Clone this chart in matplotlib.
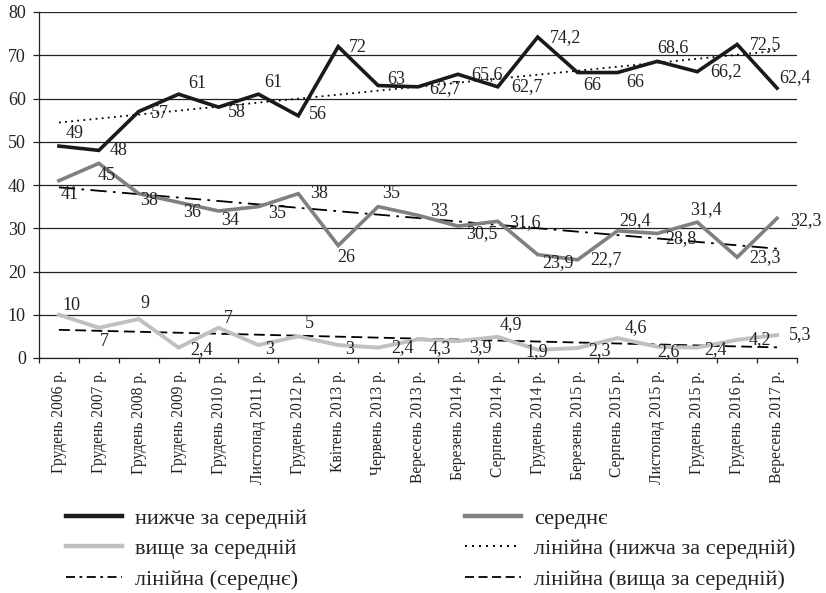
import numpy as np
import matplotlib
matplotlib.use("Agg")
import matplotlib.pyplot as plt
from matplotlib.lines import Line2D

plt.rcParams['font.family'] = ['Liberation Serif', 'DejaVu Serif']

categories = ["Грудень 2006 р.", "Грудень 2007 р.", "Грудень 2008 р.", "Грудень 2009 р.",
              "Грудень 2010 р.", "Листопад 2011 р.", "Грудень 2012 р.", "Квітень 2013 р.",
              "Червень 2013 р.", "Вересень 2013 р.", "Березень 2014 р.", "Серпень 2014 р.",
              "Грудень 2014 р.", "Березень 2015 р.", "Серпень 2015 р.", "Листопад 2015 р.",
              "Грудень 2015 р.", "Грудень 2016 р.", "Вересень 2017 р."]
below_avg = [49, 48, 57, 61, 58, 61, 56, 72, 63, 62.7, 65.6, 62.7, 74.2, 66, 66, 68.6, 66.2, 72.5, 62.4]
average = [41, 45, 38, 36, 34, 35, 38, 26, 35, 33, 30.5, 31.6, 23.9, 22.7, 29.4, 28.8, 31.4, 23.3, 32.3]
above_avg = [10, 7, 9, 2.4, 7, 3, 5, 3, 2.4, 4.3, 3.9, 4.9, 1.9, 2.3, 4.6, 2.6, 2.4, 4.2, 5.3]
y_ticks = [0, 10, 20, 30, 40, 50, 60, 70, 80]

# label offsets (pixels: dx, dy up)
off_below = [(16, 13), (20, 0), (21, -2), (19, 11), (18, -5), (15, 12), (20, 1), (20, -1), (18, 6),
             (27, -2), (29, 0), (29, 0), (28, -1), (15, -13), (18, -10), (16, 14), (29, 0), (28, 0), (18, 11)]
off_avg = [(11, -14), (8, -12), (10, -7), (13, -10), (12, -10), (19, -7), (21, 0), (8, -12), (13, 13),
           (21, 4), (24, -8), (27, -1), (20, -8), (28, 0), (18, 10), (24, -5), (9, 13), (28, 0), (29, -2)]
off_above = [(12, 9), (5, -14), (6, 16), (23, -2), (10, 9), (11, -4), (11, 13), (11, -4), (24, 0),
             (22, -9), (22, -6), (13, 12), (-1, -2), (22, -3), (18, 11), (11, -5), (18, -2), (23, 0), (23, 0)]

C_BLACK = '#1a1a1a'
C_MID = '#808080'
C_LIGHT = '#c0c0c0'
TXT = '#222222'

fig = plt.figure(figsize=(8.26, 5.93), dpi=100)
ax = fig.add_axes([39/826, 1-358/593, (797-39)/826, (358-12)/593])

x = np.arange(len(categories))

def fmt(v):
    if float(v).is_integer():
        return str(int(v))
    return ("%g" % v).replace('.', ',')

DOT = (0, (1, 2.4))
DASHDOT = (0, (9, 3.5, 1.5, 3.5))
DASH = (0, (6, 3))

# trend lines (linear regression, like Excel)
for data, ls in [(below_avg, DOT), (average, DASHDOT), (above_avg, DASH)]:
    k, b = np.polyfit(x, data, 1)
    ax.plot(x, k*x + b, color='black', lw=1.3, ls=ls, zorder=3)

ax.plot(x, below_avg, color=C_BLACK, lw=2.6, zorder=4, solid_joinstyle='miter')
ax.plot(x, average, color=C_MID, lw=2.6, zorder=4, solid_joinstyle='miter')
ax.plot(x, above_avg, color=C_LIGHT, lw=2.8, zorder=4, solid_joinstyle='miter')

for data, offs in [(below_avg, off_below), (average, off_avg), (above_avg, off_above)]:
    for xi, v, (dx, dy) in zip(x, data, offs):
        ax.annotate(fmt(v), (xi, v), xytext=(dx, dy), textcoords='offset pixels',
                    ha='center', va='center', fontsize=13, color=TXT, zorder=6,
                    annotation_clip=False)

ax.set_xlim(-0.5, len(categories) - 0.5)
ax.set_ylim(0, 80)
ax.set_yticks(y_ticks)
ax.set_yticklabels([str(t) for t in y_ticks], fontsize=13, color=TXT)
ax.yaxis.grid(True, color='#222222', lw=0.9)
ax.set_axisbelow(True)
ax.tick_params(axis='y', length=4.5, width=0.9, pad=5, color='#222222')

ax.set_xticks(x)
ax.set_xticklabels(categories, rotation=90, fontsize=11.2, color=TXT, va='top', ha='center')
ax.set_xticks(np.arange(-0.5, len(categories), 1), minor=True)
ax.tick_params(axis='x', which='major', length=0, pad=9)
ax.tick_params(axis='x', which='minor', length=3.8, width=0.9, color='#222222')

for s in ['top', 'right']:
    ax.spines[s].set_visible(False)
for s in ['left', 'bottom']:
    ax.spines[s].set_color('#222222')
    ax.spines[s].set_linewidth(0.9)

h1 = [Line2D([], [], color=C_BLACK, lw=3.2),
      Line2D([], [], color=C_LIGHT, lw=3.2),
      Line2D([], [], color='black', lw=1.3, ls=(0, (5, 2.5, 1.5, 2.5)))]
l1 = ["нижче за середній", "вище за середній", "лінійна (середнє)"]
h2 = [Line2D([], [], color=C_MID, lw=3.2),
      Line2D([], [], color='black', lw=1.4, ls=(0, (1, 2.6))),
      Line2D([], [], color='black', lw=1.3, ls=(0, (5, 2.5)))]
l2 = ["середнє", "лінійна (нижча за середній)", "лінійна (вища за середній)"]

for hs, ls_, xpx in [(h1, l1, 66), (h2, l2, 465)]:
    leg = fig.legend(hs, ls_, loc='center left', bbox_to_anchor=(xpx/826, 1-549/593),
                     frameon=False, fontsize=16, handlelength=2.5, handletextpad=0.6,
                     labelspacing=0.45, borderpad=0, borderaxespad=0)
    for t in leg.get_texts():
        t.set_color(TXT)

fig.savefig('out.png', dpi=100)
